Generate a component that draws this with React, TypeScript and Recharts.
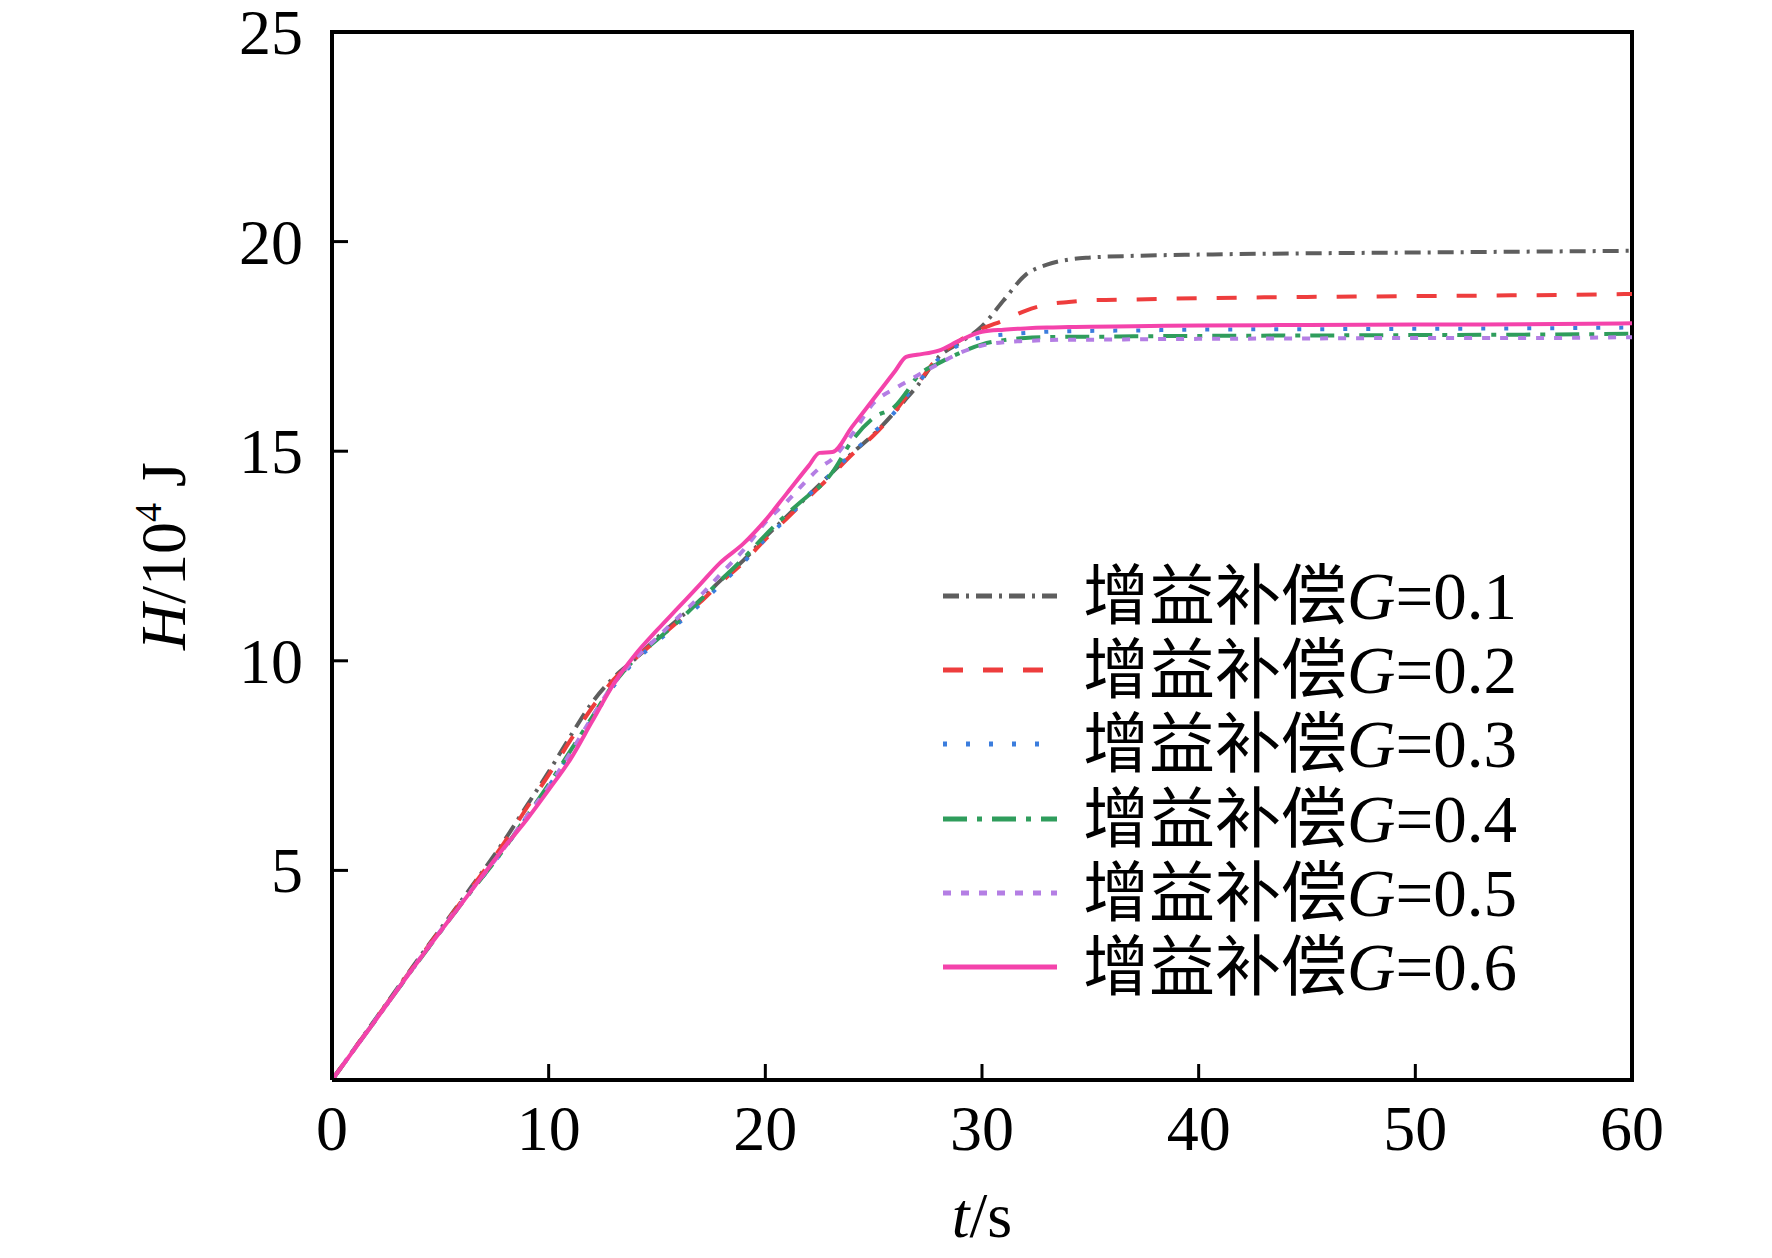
import React from "react";
import { LineChart, Line, XAxis, YAxis, ReferenceLine, Legend, Label } from "recharts";

// time axis (s)
const times = [
  0, 2, 4, 6, 8, 9, 10, 11, 12, 13, 14, 15, 16, 17, 17.9, 19, 20, 21, 22, 22.5,
  23.1, 24, 25, 26, 26.5, 27, 28, 29, 30, 31, 32, 33, 34, 35, 37, 40, 45, 50, 55, 60,
];

// H / 10^4 J for each gain G
const g01 = [
  0, 1.45, 2.9, 4.3, 5.75, 6.55, 7.35, 8.2, 9.0, 9.6, 10.05, 10.55, 11.0, 11.45, 11.9, 12.4, 12.95, 13.45, 13.95, 14.2,
  14.5, 14.95, 15.4, 15.95, 16.25, 16.55, 17.25, 17.6, 17.98, 18.6, 19.2, 19.45, 19.57, 19.62, 19.66, 19.69, 19.72, 19.74, 19.76, 19.78,
];
const g02 = [
  0, 1.44, 2.88, 4.28, 5.7, 6.5, 7.28, 8.1, 8.88, 9.55, 10.05, 10.5, 10.95, 11.4, 11.85, 12.35, 12.9, 13.4, 13.9, 14.15,
  14.45, 14.92, 15.38, 15.95, 16.3, 16.6, 17.25, 17.65, 17.92, 18.12, 18.35, 18.5, 18.56, 18.6, 18.62, 18.65, 18.68, 18.7, 18.72, 18.75,
];
const g03 = [
  0, 1.42, 2.84, 4.22, 5.55, 6.28, 7.0, 7.8, 8.6, 9.4, 10.0, 10.45, 10.9, 11.35, 11.8, 12.35, 12.9, 13.4, 13.95, 14.2,
  14.5, 14.95, 15.45, 15.95, 16.3, 16.6, 17.2, 17.55, 17.72, 17.78, 17.82, 17.85, 17.86, 17.87, 17.88, 17.9, 17.91, 17.92, 17.93, 17.95,
];
const g04 = [
  0, 1.42, 2.84, 4.22, 5.55, 6.3, 7.05, 7.85, 8.65, 9.45, 10.05, 10.5, 10.95, 11.45, 11.9, 12.45, 13.0, 13.5, 13.95, 14.15,
  14.5, 15.25, 15.8, 16.08, 16.4, 16.77, 17.1, 17.35, 17.55, 17.65, 17.7, 17.72, 17.73, 17.73, 17.74, 17.75, 17.76, 17.77, 17.78, 17.8,
];
const g05 = [
  0, 1.43, 2.86, 4.24, 5.57, 6.3, 7.0, 7.8, 8.65, 9.45, 10.05, 10.55, 11.05, 11.55, 12.05, 12.65, 13.3, 13.8, 14.35, 14.6,
  14.82, 15.4, 16.15, 16.5, 16.65, 16.8, 17.08, 17.35, 17.52, 17.6, 17.63, 17.65, 17.66, 17.66, 17.67, 17.68, 17.69, 17.7, 17.7, 17.72,
];
const g06 = [
  0, 1.42, 2.85, 4.22, 5.58, 6.22, 6.92, 7.65, 8.55, 9.45, 10.15, 10.73, 11.28, 11.83, 12.33, 12.8, 13.35, 14.0, 14.65, 14.96,
  14.98, 15.58, 16.25, 16.92, 17.25, 17.3, 17.4, 17.65, 17.85, 17.9, 17.93, 17.95, 17.96, 17.97, 17.98, 18.0, 18.01, 18.02, 18.03, 18.05,
];

const xTicks = [0, 10, 20, 30, 40, 50, 60];
const yTicks = [5, 10, 15, 20, 25];

const series = [
  { key: "g01", gain: "0.1", color: "#5e5e5e", dash: "16 7 3 7" },
  { key: "g02", gain: "0.2", color: "#ee3d3d", dash: "20 20" },
  { key: "g03", gain: "0.3", color: "#3b7ddd", dash: "4 19" },
  { key: "g04", gain: "0.4", color: "#2f9d5c", dash: "24 10 5 10" },
  { key: "g05", gain: "0.5", color: "#b47ee4", dash: "8 10" },
  { key: "g06", gain: "0.6", color: "#f443ab", dash: undefined },
];

const data = times.map((t, i) => ({
  t,
  g01: g01[i],
  g02: g02[i],
  g03: g03[i],
  g04: g04[i],
  g05: g05[i],
  g06: g06[i],
}));

const SERIF = "'Liberation Serif', 'Times New Roman', serif";
const CJK = "'Noto Sans CJK SC', sans-serif";

const XTick = ({ x, y, payload }: any) => (
  <g>
    <line x1={x} y1={y} x2={x} y2={y - 16} stroke="#000" strokeWidth={3} />
    <text x={x} y={y + 70} textAnchor="middle" fontFamily={SERIF} fontSize={64} fill="#000">
      {payload.value}
    </text>
  </g>
);

const YTick = ({ x, y, payload }: any) => (
  <g>
    <line x1={x} y1={y} x2={x + 16} y2={y} stroke="#000" strokeWidth={3} />
    <text x={x - 29} y={y + 22} textAnchor="end" fontFamily={SERIF} fontSize={64} fill="#000">
      {payload.value}
    </text>
  </g>
);

const LegendBox = () => (
  <div>
    {series.map((s) => (
      <div key={s.key} style={{ display: "flex", alignItems: "center", height: 74.2 }}>
        <svg width={114} height={10} style={{ display: "block" }}>
          <line x1={0} y1={5} x2={114} y2={5} stroke={s.color} strokeWidth={5} strokeDasharray={s.dash} />
        </svg>
        <span
          style={{
            marginLeft: 26,
            whiteSpace: "nowrap",
            lineHeight: "74px",
            color: "#000",
            position: "relative",
            top: 6,
          }}
        >
          <span style={{ fontFamily: CJK, fontSize: 66 }}>增益补偿</span>
          <span style={{ fontFamily: SERIF, fontSize: 67, fontStyle: "italic" }}>G</span>
          <span style={{ fontFamily: SERIF, fontSize: 67 }}>={s.gain}</span>
        </span>
      </div>
    ))}
  </div>
);

export default function App() {
  return (
    <div style={{ position: "absolute", left: 0, top: 0, width: 1772, height: 1258, background: "#fff" }}>
      <LineChart width={1772} height={1258} data={data} margin={{ top: 32, right: 140, bottom: 78, left: 232 }}>
        <XAxis
          dataKey="t"
          type="number"
          domain={[0, 60]}
          ticks={xTicks}
          interval={0}
          height={100}
          tickSize={0}
          tickMargin={0}
          tickLine={false}
          axisLine={{ stroke: "#000", strokeWidth: 4 }}
          tick={<XTick />}
        >
          <Label
            content={({ viewBox }: any) => (
              <text
                x={viewBox.x + viewBox.width / 2}
                y={1237}
                textAnchor="middle"
                fontFamily={SERIF}
                fontSize={64}
                fill="#000"
              >
                <tspan fontStyle="italic">t</tspan>/s
              </text>
            )}
          />
        </XAxis>
        <YAxis
          type="number"
          domain={[0, 25]}
          ticks={yTicks}
          interval={0}
          width={100}
          tickSize={0}
          tickMargin={0}
          tickLine={false}
          axisLine={{ stroke: "#000", strokeWidth: 4 }}
          tick={<YTick />}
        >
          <Label
            content={({ viewBox }: any) => {
              const cy = viewBox.y + viewBox.height / 2;
              return (
                <text
                  transform={`translate(185, ${cy}) rotate(-90)`}
                  textAnchor="middle"
                  fontFamily={SERIF}
                  fontSize={64}
                  fill="#000"
                >
                  <tspan fontStyle="italic">H</tspan>
                  <tspan>/10</tspan>
                  <tspan dy={-24} fontSize={38}>4</tspan>
                  <tspan dy={24}> J</tspan>
                </text>
              );
            }}
          />
        </YAxis>
        <ReferenceLine y={25} stroke="#000" strokeWidth={4} strokeLinecap="square" />
        <ReferenceLine x={60} stroke="#000" strokeWidth={4} strokeLinecap="square" />
        {series.map((s) => (
          <Line
            key={s.key}
            type="monotone"
            dataKey={s.key}
            stroke={s.color}
            strokeWidth={4}
            strokeDasharray={s.dash}
            dot={false}
            activeDot={false}
            isAnimationActive={false}
          />
        ))}
        <Legend
          layout="vertical"
          align="center"
          verticalAlign="middle"
          wrapperStyle={{ left: 943, top: 559, width: 640 }}
          content={() => <LegendBox />}
        />
      </LineChart>
    </div>
  );
}
